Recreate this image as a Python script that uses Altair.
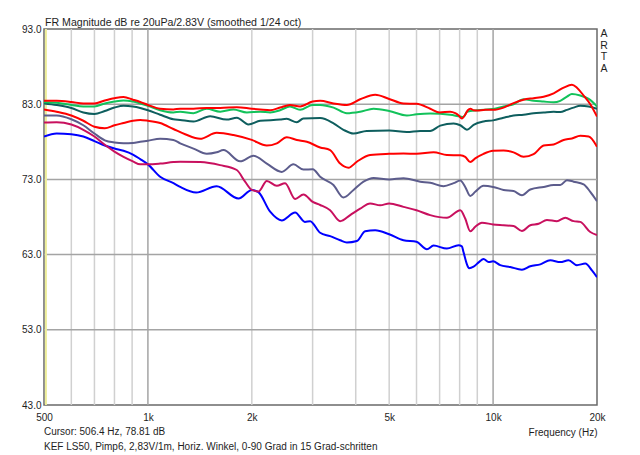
import altair as alt
import pandas as pd

# ---------------- data ----------------
freq_0 = [500, 544, 600, 650, 700, 750, 800, 850, 905, 950, 1000, 1085, 1185, 1240, 1355, 1480, 1620, 1810, 2000, 2115,
          2260, 2415, 2580, 2760, 3000, 3155, 3450, 3770, 4120, 4555, 5000, 5500, 6000, 6575, 7000, 7510, 7770, 7950, 8120, 8300,
          8450, 8600, 8780, 9000, 9490, 10000, 10725, 11465, 12255, 13100, 14010, 14980, 16010, 16920, 17495, 18290, 19125, 20000]
db_0 = [83.45, 83.45, 83.3, 83.1, 83.1, 83.5, 83.8, 83.95, 83.6, 83.3, 82.9, 82.4, 82.3, 82.4, 82.4, 82.5, 82.5, 82.6, 82.4, 82.3,
        82.2, 82.55, 82.9, 82.7, 83.35, 83.45, 83.1, 82.9, 83.65, 84.25, 83.7, 83.1, 83.05, 82.4, 81.9, 82.0, 81.8, 81.5, 81.1, 81.6,
        82.2, 82.4, 82.2, 82.15, 82.25, 82.25, 82.55, 83.15, 83.6, 83.8, 84.0, 84.45, 85.2, 85.6, 85.2, 84.15, 83.0, 81.35]

freq_15 = [500, 544, 600, 650, 700, 750, 800, 850, 905, 950, 1000, 1085, 1185, 1240, 1355, 1480, 1620, 1770, 1935, 2115,
           2260, 2415, 2580, 2760, 3000, 3155, 3450, 3770, 4120, 4505, 5000, 5625, 6000, 6575, 7510, 8035, 8210, 8400, 9000, 10000,
           10725, 11465, 12255, 13100, 14010, 14980, 15655, 16365, 16920, 17890, 18920, 20000]
db_15 = [83.27, 83.2, 82.9, 82.7, 82.7, 83.1, 83.35, 83.5, 83.35, 83.1, 82.8, 82.2, 81.9, 82.0, 81.8, 82.4, 82.0, 82.3, 81.9, 82.0,
         81.9, 82.2, 82.7, 82.25, 82.9, 82.9, 82.55, 81.8, 82.0, 82.4, 82.1, 81.5, 81.65, 81.75, 81.6, 81.35, 81.3, 82.0, 82.2, 82.35,
         82.7, 83.0, 83.65, 83.45, 83.35, 83.25, 83.45, 84.0, 84.35, 84.15, 83.7, 82.7]

freq_30 = [500, 544, 600, 650, 700, 750, 800, 850, 905, 950, 1000, 1085, 1185, 1240, 1355, 1515, 1690, 1810, 1955, 2115,
           2415, 2525, 2700, 2820, 3155, 3450, 3685, 3940, 4300, 5000, 5625, 6150, 6575, 7030, 7685, 8035, 8400, 8780, 9385, 10000,
           10725, 11465, 12255, 13100, 14010, 14980, 15655, 16365, 17110, 17890, 18920, 20000]
db_30 = [83.1, 82.9, 82.5, 81.9, 81.7, 82.1, 82.55, 82.8, 82.7, 82.5, 82.2, 81.6, 81.0, 80.9, 80.7, 81.4, 80.95, 81.2, 80.3, 80.8,
         80.95, 81.05, 80.6, 81.1, 81.15, 80.45, 79.6, 79.1, 79.45, 79.5, 79.3, 79.45, 79.45, 80.15, 80.45, 80.2, 79.6, 80.25, 80.7, 80.85,
         81.2, 81.5, 81.6, 81.8, 81.9, 82.0, 81.95, 82.25, 82.55, 82.8, 82.7, 82.4]

freq_45 = [500, 544, 600, 650, 700, 750, 800, 850, 905, 950, 1000, 1085, 1185, 1282, 1417, 1582, 1770, 2000, 2210, 2363,
           2525, 2700, 2886, 3155, 3372, 3606, 3812, 4030, 4403, 5000, 5500, 6000, 6722, 7347, 8034, 8303, 8587, 8877, 9385, 10000,
           10725, 11465, 12256, 13103, 14010, 14978, 16010, 16920, 17890, 18920, 20000]
db_45 = [82.3, 82.0, 81.5, 80.8, 80.0, 79.8, 80.2, 80.5, 80.8, 80.9, 80.8, 80.5, 79.7, 79.0, 78.4, 79.2, 78.9, 78.25, 77.5, 77.8,
         78.6, 78.25, 78.0, 77.25, 76.9, 75.1, 74.55, 75.35, 76.25, 76.4, 76.45, 76.4, 76.6, 76.25, 76.2, 76.0, 75.3, 75.8, 76.4, 76.8,
         76.85, 76.6, 76.0, 76.35, 77.5, 77.65, 78.25, 78.45, 78.8, 78.7, 77.35]

freq_60 = [500, 544, 600, 650, 700, 750, 800, 850, 905, 950, 1000, 1085, 1185, 1240, 1355, 1481, 1582, 1655, 1850, 2022,
           2210, 2442, 2640, 2822, 3004, 3155, 3448, 3685, 3942, 4213, 4505, 5000, 5500, 6150, 6574, 7185, 7683, 8034, 8303, 8587,
           8877, 9385, 10000, 10725, 11465, 12121, 12815, 14010, 14978, 15655, 16366, 17109, 18293, 19124, 20000]
db_60 = [81.5, 81.5, 81.0, 80.2, 79.1, 78.2, 77.9, 77.8, 77.85, 78.0, 78.15, 78.4, 78.25, 77.8, 77.1, 76.4, 76.6, 76.9, 75.4, 76.15,
         75.1, 74.0, 75.0, 74.3, 74.35, 73.35, 72.25, 70.6, 71.6, 72.7, 73.2, 73.0, 73.15, 72.7, 72.55, 72.1, 72.5, 72.85, 72.0, 70.8,
         71.35, 72.15, 72.0, 71.6, 71.45, 70.9, 71.65, 72.0, 72.25, 72.25, 72.9, 72.7, 72.35, 71.35, 70.1]

freq_75 = [500, 544, 600, 650, 700, 750, 800, 850, 905, 950, 1000, 1085, 1185, 1240, 1417, 1618, 1809, 1912, 2000, 2091,
           2210, 2363, 2497, 2670, 2822, 3004, 3155, 3372, 3606, 3854, 4120, 4403, 4708, 5000, 5500, 6000, 6574, 7347, 8034, 8303,
           8587, 8877, 9281, 10000, 10725, 11465, 12121, 12815, 13550, 14322, 15310, 16186, 17109, 17890, 19124, 20000]
db_75 = [80.55, 80.6, 80.3, 79.6, 78.7, 77.6, 76.7, 76.0, 75.4, 75.0, 75.0, 75.1, 75.3, 75.35, 75.3, 74.9, 74.25, 72.7, 71.6, 71.4,
         72.8, 72.15, 72.5, 70.4, 71.0, 70.0, 69.6, 68.9, 67.45, 68.25, 69.1, 69.8, 69.55, 69.8, 69.35, 68.9, 68.25, 67.9, 68.9, 67.8,
         66.1, 66.7, 67.25, 67.0, 66.9, 66.8, 66.15, 66.9, 67.1, 67.6, 67.45, 67.9, 67.45, 67.35, 66.0, 65.6]

freq_90 = [500, 544, 600, 650, 700, 750, 800, 850, 905, 950, 1000, 1085, 1186, 1240, 1380, 1582, 1830, 2000, 2090, 2260,
           2442, 2670, 2850, 2951, 3155, 3372, 3606, 3770, 4030, 4260, 4555, 5000, 5500, 6000, 6432, 6722, 7347, 7944, 8120, 8212,
           8400, 8520, 8780, 9100, 9385, 9705, 10000, 10486, 11210, 12121, 12815, 13703, 14645, 15655, 16548, 17494, 18496, 19335, 20000]
db_90 = [78.7, 79.1, 79.0, 78.7, 78.1, 77.5, 77.1, 76.8, 76.3, 75.7, 75.0, 73.35, 72.5, 72.0, 71.25, 72.1, 70.45, 71.6, 71.3, 68.7,
         67.55, 68.6, 67.35, 67.45, 65.9, 65.45, 64.9, 64.6, 64.8, 66.1, 66.25, 65.7, 64.9, 64.7, 63.7, 64.2, 63.8, 64.25, 64.1, 63.3,
         61.7, 61.2, 61.4, 62.0, 62.4, 62.0, 62.1, 61.6, 61.35, 61.0, 61.45, 61.7, 62.25, 62.0, 62.25, 61.6, 61.8, 60.9, 60.0]

series_names = ["0°", "15°", "30°", "45°", "60°", "75°", "90°"]
series_colors = ["#FF0000", "#12C25A", "#0E5E5E", "#FF0000", "#5C5C8C", "#C8105E", "#0000FF"]
series_freqs = [freq_0, freq_15, freq_30, freq_45, freq_60, freq_75, freq_90]
series_dbs = [db_0, db_15, db_30, db_45, db_60, db_75, db_90]

x_tick_values = [500, 1000, 2000, 5000, 10000, 20000]
x_tick_labels = ["500", "1k", "2k", "5k", "10k", "20k"]
y_tick_values = [43, 53, 63, 73, 83, 93]
minor_freqs = [600, 700, 800, 900, 2000, 3000, 4000, 5000, 6000, 7000, 8000, 9000]
major_freqs = [1000, 10000]
db_grid = [53, 63, 73, 83]
cursor_freq = 506.4

title_text = "FR Magnitude dB re 20uPa/2.83V (smoothed 1/24 oct)"
cursor_text = "Cursor: 506.4 Hz, 78.81 dB"
note_text = "KEF LS50, Pimp6, 2,83V/1m, Horiz. Winkel, 0-90 Grad in 15 Grad-schritten"
x_title = "Frequency (Hz)"
brand = ["A", "R", "T", "A"]

# ---------------- build table ----------------
rows = []
for name, fs, ds in reversed(list(zip(series_names, series_freqs, series_dbs))):
    for f, d in zip(fs, ds):
        rows.append({"series": name, "freq": f, "db": d})
curves_df = pd.DataFrame(rows)

FONT = "Liberation Sans"
TXT = "#1E1E1E"
W, H = 553, 376

label_expr = " : ".join(
    f"datum.value == {v} ? '{l}'" for v, l in zip(x_tick_values, x_tick_labels)
) + " : ''"

xscale = alt.Scale(type="log", domain=[500, 20000], nice=False)
yscale = alt.Scale(domain=[43, 93], nice=False, zero=False)

x_axis = alt.Axis(values=x_tick_values, labelExpr=label_expr, title=x_title,
                  titleX=W, titleY=27, titleAlign="right", titleBaseline="middle",
                  titleFontWeight="normal", titleFontSize=10, titleFont=FONT, titleColor=TXT,
                  labelFontSize=10, labelFont=FONT, labelColor=TXT, labelPadding=12.5,
                  labelBaseline="middle", labelFlush=False, labelOverlap=False,
                  ticks=False, domain=False, grid=False)
y_axis = alt.Axis(values=y_tick_values, format=".1f", title=None,
                  labelFontSize=10, labelFont=FONT, labelColor=TXT, labelPadding=3,
                  labelOverlap=False, ticks=False, domain=False, grid=False)

minor = alt.Chart(pd.DataFrame({"freq": minor_freqs})).mark_rule(
    color="#D0D0D0", strokeWidth=1.5).encode(x=alt.X("freq:Q", scale=xscale, axis=x_axis))
major = alt.Chart(pd.DataFrame({"freq": major_freqs})).mark_rule(
    color="#A4A4A4", strokeWidth=1.5).encode(x=alt.X("freq:Q", scale=xscale, axis=x_axis))
hgrid = alt.Chart(pd.DataFrame({"db": db_grid})).mark_rule(
    color="#A4A4A4", strokeWidth=1.5).encode(y=alt.Y("db:Q", scale=yscale, axis=y_axis))
cursor = alt.Chart(pd.DataFrame({"freq": [cursor_freq]})).mark_rule(
    color="#EEEE99", strokeWidth=2).encode(x=alt.X("freq:Q", scale=xscale, axis=x_axis))

curves = alt.Chart(curves_df).mark_line(strokeWidth=2, clip=True, interpolate="monotone").encode(
    x=alt.X("freq:Q", scale=xscale, axis=x_axis),
    y=alt.Y("db:Q", scale=yscale, axis=y_axis),
    color=alt.Color("series:N", scale=alt.Scale(domain=series_names, range=series_colors), legend=None),
    detail="series:N",
)

one = pd.DataFrame({"k": [0]})
title_mark = alt.Chart(one).mark_text(align="left", baseline="middle", font=FONT, fontSize=10.6, color=TXT).encode(
    x=alt.value(1), y=alt.value(-6.5), text=alt.value(title_text))
cursor_mark = alt.Chart(one).mark_text(align="left", baseline="middle", font=FONT, fontSize=10, color=TXT).encode(
    x=alt.value(0), y=alt.value(403), text=alt.value(cursor_text))
note_mark = alt.Chart(one).mark_text(align="left", baseline="middle", font=FONT, fontSize=10, color=TXT).encode(
    x=alt.value(0), y=alt.value(418), text=alt.value(note_text))
brand_mark = alt.Chart(one).mark_text(align="center", baseline="top", font=FONT, fontSize=10.5, color=TXT,
                                      lineHeight=11.6).encode(
    x=alt.value(W + 7), y=alt.value(0), text=alt.value(brand))

chart = alt.layer(minor, major, hgrid, cursor, curves, title_mark, cursor_mark, note_mark, brand_mark).properties(
    width=W, height=H,
    padding={"left": 36, "top": 21, "right": 28, "bottom": 47},
    autosize=alt.AutoSizeParams(type="none"),
    background="white",
).configure_view(stroke="#6A6A6A", strokeWidth=1.5)

chart.save("out.html", embed_options={"renderer": "svg", "actions": False})
